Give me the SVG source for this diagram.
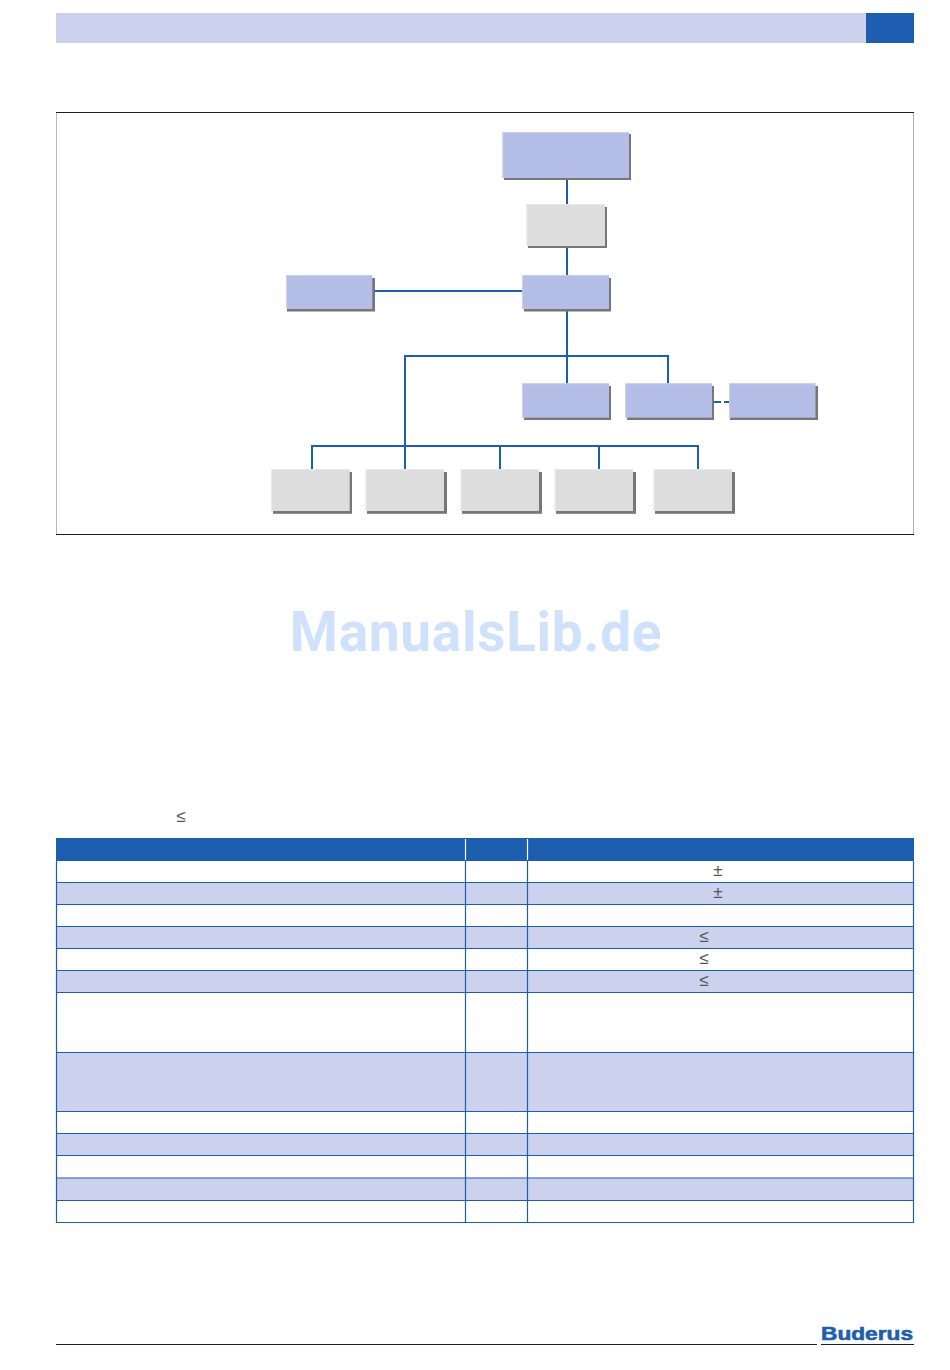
<svg xmlns="http://www.w3.org/2000/svg" width="950" height="1370" viewBox="0 0 950 1370">
<style>
.blue{fill:#b3bde6}
.grey{fill:#dddddd}
.shadow{fill:#777777}
.hlb{fill:none;stroke:#c9d0ee;stroke-width:1}
.hlg{fill:none;stroke:#e8e8e8;stroke-width:1}
.conn{fill:none;stroke:#1e5eb0;stroke-width:2}
.rule{fill:none;stroke:#1e5eb0;stroke-width:1.2}
.band{fill:#ccd1ee}
.sym{font-family:"Liberation Sans",sans-serif;font-size:17px;fill:#555;text-anchor:middle}
</style>
<rect width="950" height="1370" fill="#fff"/>
<g id="header"><rect x="56" y="13" width="810" height="30" fill="#ccd1ee"/><rect x="866" y="13" width="48" height="30" fill="#1e5eb0"/></g>
<g id="frame"><path d="M56.500 112.500V534.500" stroke="#bbb" fill="none"/><path d="M913.500 112.500V534.500" stroke="#b0b0b0" fill="none"/><path d="M56 112.500H914M56 534.500H914" stroke="#1e1e1e" fill="none"/></g>
<g id="connectors">
<path class="conn" d="M567 179V205M567 247V275M567 311V384M375 291H522M405 446V356H668V384M312 470V446H698V470M405 446V470M500 446V470M599 446V470"/>
<path class="conn" d="M714 402H721M724 402H730"/>
</g>
<g id="n1"><rect class="shadow" x="504" y="134" width="127" height="46"/><rect class="blue" x="502.500" y="132" width="126.500" height="46"/><path class="hlb" d="M503 178V132.500H629"/></g>
<g id="n2"><rect class="shadow" x="528" y="207" width="79" height="41"/><rect class="grey" x="526.500" y="204" width="78.500" height="42"/><path class="hlg" d="M527 246V204.500H605"/></g>
<g id="n3"><rect class="shadow" x="524" y="278" width="87" height="33.500"/><rect class="blue" x="522" y="275" width="87" height="34"/><path class="hlb" d="M522.500 309V275.500H609"/></g>
<g id="n4"><rect class="shadow" x="287" y="278" width="88" height="33.500"/><rect class="blue" x="286" y="275" width="86.300" height="34"/><path class="hlb" d="M286.500 309V275.500H372"/></g>
<g id="n5"><rect class="shadow" x="524" y="386" width="87" height="34"/><rect class="blue" x="522" y="383.300" width="87" height="34.400"/><path class="hlb" d="M522.500 417.500V383.800H609"/></g>
<g id="n6"><rect class="shadow" x="627" y="386" width="87" height="34"/><rect class="blue" x="625.300" y="383.300" width="86.700" height="34.400"/><path class="hlb" d="M625.800 417.500V383.800H712"/></g>
<g id="n7"><rect class="shadow" x="730" y="386" width="88" height="34"/><rect class="blue" x="729" y="383.300" width="86.500" height="34.400"/><path class="hlb" d="M729.500 417.500V383.800H815.500"/></g>
<g id="n8"><rect class="shadow" x="273" y="472" width="79" height="41.800"/><rect class="grey" x="271" y="469" width="78.700" height="42"/><path class="hlg" d="M271.500 511V469.500H349.700"/></g>
<g id="n9"><rect class="shadow" x="367" y="472" width="80" height="41.800"/><rect class="grey" x="365.700" y="469" width="78.300" height="42"/><path class="hlg" d="M366.200 511V469.500H444"/></g>
<g id="n10"><rect class="shadow" x="462" y="472" width="80" height="41.800"/><rect class="grey" x="460.700" y="469" width="78.300" height="42"/><path class="hlg" d="M461.200 511V469.500H539"/></g>
<g id="n11"><rect class="shadow" x="556" y="472" width="80" height="41.800"/><rect class="grey" x="554.700" y="469" width="78.300" height="42"/><path class="hlg" d="M555.200 511V469.500H633"/></g>
<g id="n12"><rect class="shadow" x="655" y="472" width="80" height="41.800"/><rect class="grey" x="653.700" y="469" width="78.300" height="42"/><path class="hlg" d="M654.200 511V469.500H732"/></g>
<text id="watermark" x="476" y="651" font-family="Roboto,sans-serif" font-weight="700" font-size="55" letter-spacing="0.700" fill="#cfe1fb" text-anchor="middle">ManualsLib.de</text>
<text class="sym" x="181" y="821.500">≤</text>
<g id="table">
<rect x="56" y="838" width="858" height="23" fill="#1e5eb0"/>
<rect class="band" x="57" y="882.500" width="856" height="22"/>
<rect class="band" x="57" y="926.500" width="856" height="22"/>
<rect class="band" x="57" y="970.500" width="856" height="22"/>
<rect class="band" x="57" y="1052.500" width="856" height="59"/>
<rect class="band" x="57" y="1133.500" width="856" height="22"/>
<rect class="band" x="57" y="1178" width="856" height="22"/>
<path d="M465.500 839V860M527.500 839V860" stroke="#fff" stroke-width="1.200" fill="none"/>
<path class="rule" d="M56.500 861V1222.500H913.500V861M465.500 861V1222.500M527.500 861V1222.500M56 882.500H914M56 904.500H914M56 926.500H914M56 948.500H914M56 970.500H914M56 992.500H914M56 1052.500H914M56 1111.500H914M56 1133.500H914M56 1155.500H914M56 1178H914M56 1200.500H914"/>
<text class="sym" x="718" y="876">±</text>
<text class="sym" x="718" y="898">±</text>
<text class="sym" x="704" y="942">≤</text>
<text class="sym" x="704" y="964">≤</text>
<text class="sym" x="704" y="986">≤</text>
</g>
<g id="footer">
<path d="M56 1344.500H817M821 1344.500H914" stroke="#1e1e1e" fill="none"/>
<text x="867" y="1340" font-family="Liberation Sans,sans-serif" font-weight="700" font-size="18.500" fill="#1e5eb0" stroke="#1e5eb0" stroke-width=".6" text-anchor="middle" textLength="92" lengthAdjust="spacingAndGlyphs">Buderus</text>
</g>
</svg>
